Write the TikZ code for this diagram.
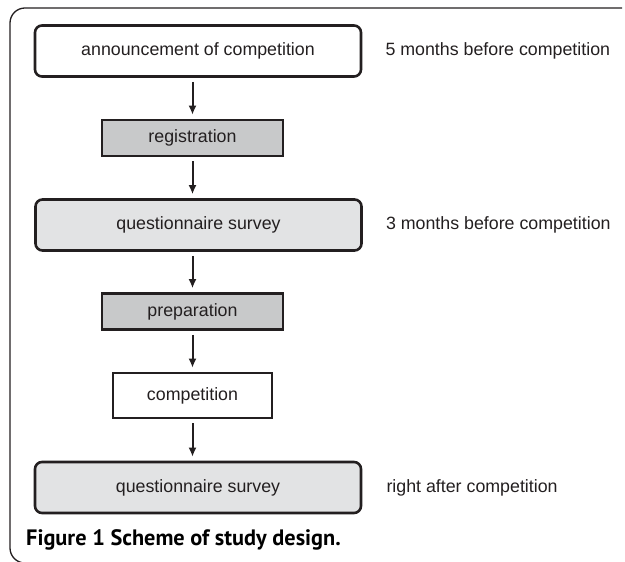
\documentclass[tikz,border=0pt]{standalone}
\usepackage{fontspec}
\setmainfont{Liberation Sans}
\newfontfamily\captionfont{PT Sans}
\usetikzlibrary{positioning,arrows.meta}
\definecolor{inkgray}{HTML}{231F20}
\definecolor{taskfill}{HTML}{C8C9CA}
\definecolor{surveyfill}{HTML}{E2E3E4}

\begin{document}
\begin{tikzpicture}[x=1pt,y=1pt,
    font=\fontsize{17.8}{21}\selectfont, text=inkgray,
    stage/.style={draw=inkgray, line width=2.6pt, rounded corners=7pt,
        minimum width=326pt, minimum height=51pt, inner sep=0pt},
    task/.style={draw=inkgray, line width=2.6pt, fill=taskfill,
        minimum width=181pt, minimum height=36pt, inner sep=0pt},
    when/.style={inner sep=0pt},
    flow/.style={-{Latex[length=9pt,width=8pt]}, draw=inkgray, line width=2pt,
        shorten <=4pt, shorten >=4pt}]
   \useasboundingbox (0,0) rectangle (625,562);

   % frame round the figure
   \draw[inkgray, line width=1.3pt, rounded corners=15pt]
      (622,554) -- (10,554) -- (10,-1) -- (200,-1);

   % stages of the study
   \node[stage] (announce) at (198,511) {announcement of competition};
   \node[task] (register) at (192.5,424) {registration};
   \node[stage, fill=surveyfill] (survey1) at (198.5,337) {questionnaire survey};
   \node[task] (prepare) at (192.5,250.5) {preparation};
   \node[task, fill=white, minimum width=159pt, minimum height=45pt] (compete) at (192.5,166.5) {competition};
   \node[stage, fill=surveyfill] (survey2) at (198,74.5) {questionnaire survey};

   % timing
   \node[when, right=23pt of announce] (t5) {5 months before competition};
   \node[when, right=23pt of survey1] (t3) {3 months before competition};
   \node[when, right=24pt of survey2] (t0) {right after competition};

   \draw[flow] (announce.south -| register.north) -- (register.north);
   \draw[flow] (register.south) -- (register.south |- survey1.north);
   \draw[flow] (register.south |- survey1.south) -- (prepare.north);
   \draw[flow] (prepare.south) -- (compete.north);
   \draw[flow] (compete.south) -- (compete.south |- survey2.north);

   \node[anchor=base west, inner sep=0pt, text=black, font=\captionfont\bfseries\fontsize{22.3}{26}\selectfont]
      (caption) at (26,16) {Figure 1 Scheme of study design.};
\end{tikzpicture}
\end{document}
